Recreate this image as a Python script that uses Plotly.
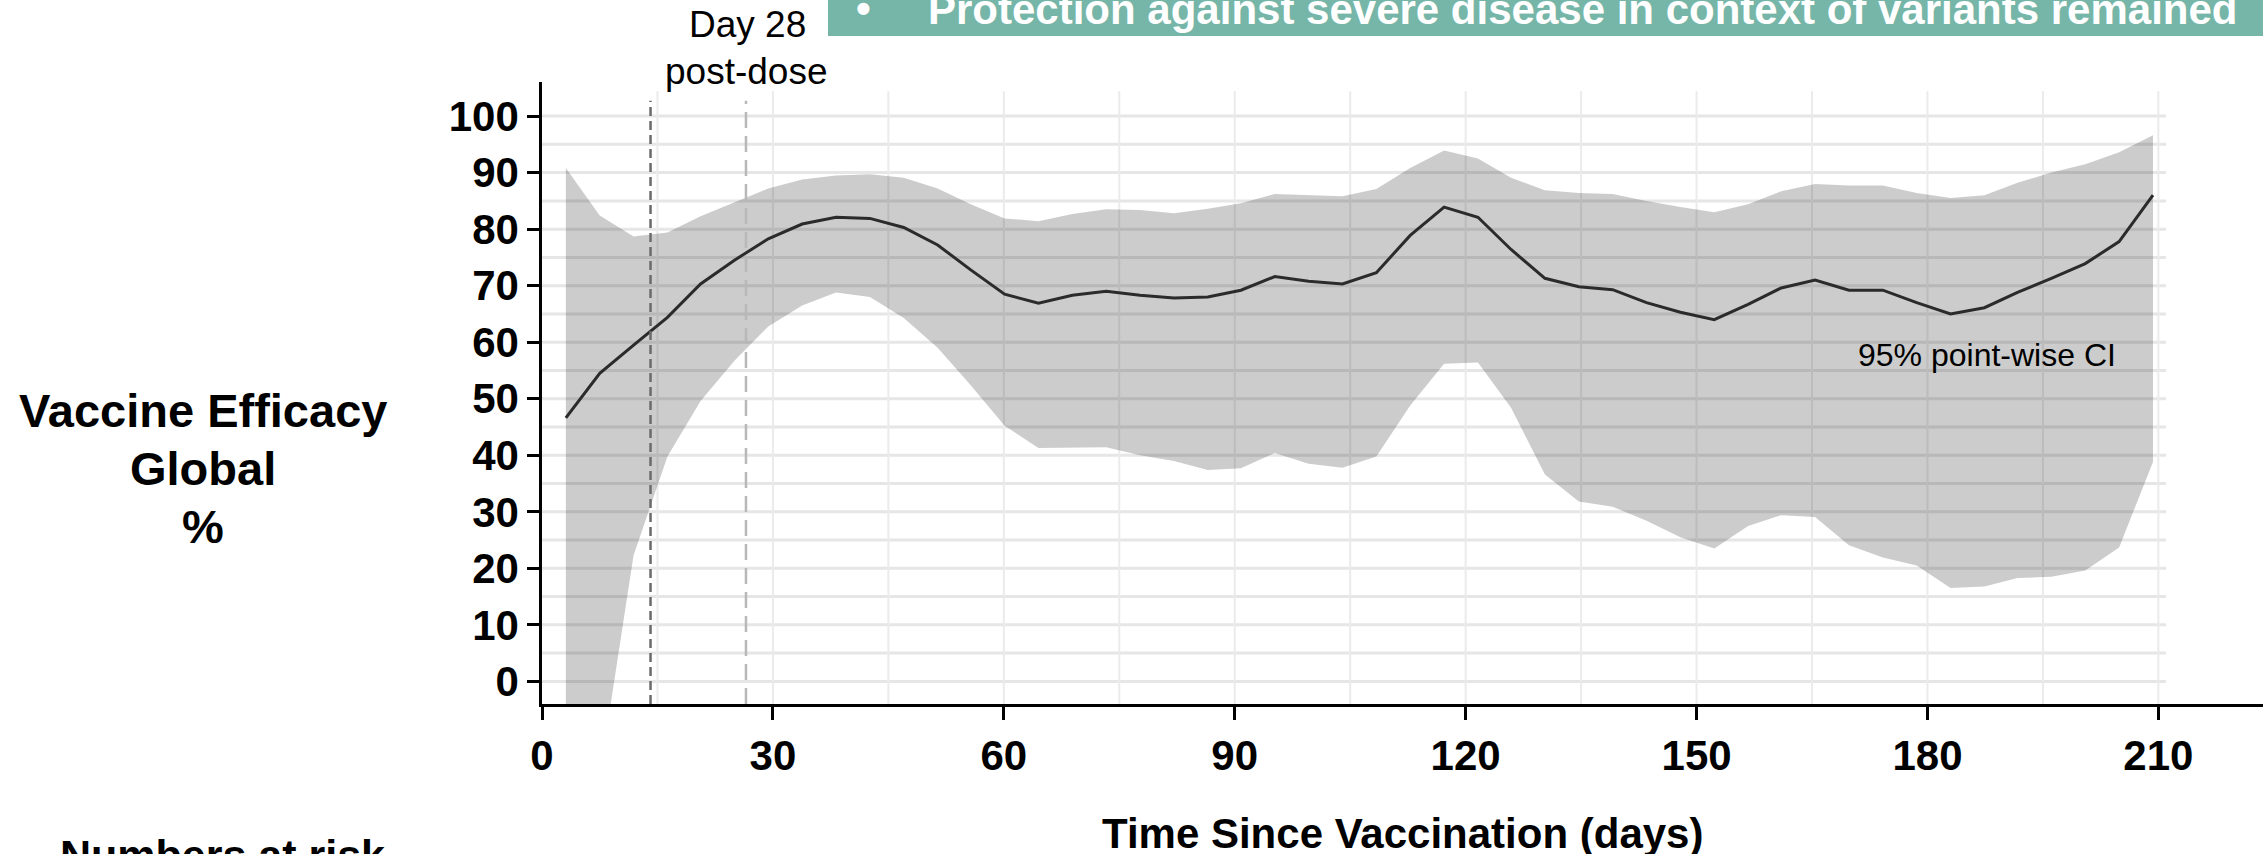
import plotly.graph_objects as go

# ---------------- data ----------------
days = [3.1, 7.5, 11.9, 16.3, 20.6, 25.0, 29.4, 33.8, 38.2, 42.6, 47.0, 51.4,
        55.7, 60.1, 64.5, 68.9, 73.3, 77.7, 82.1, 86.5, 90.8, 95.2, 99.6, 104.0,
        108.4, 112.8, 117.2, 121.6, 125.9, 130.3, 134.7, 139.1, 143.5, 147.9,
        152.3, 156.7, 161.0, 165.4, 169.8, 174.2, 178.6, 183.0, 187.4, 191.7,
        196.1, 200.5, 204.9, 209.3]
efficacy = [46.6, 54.5, 59.5, 64.4, 70.3, 74.5, 78.3, 80.9, 82.1, 81.9, 80.3, 77.2,
            72.8, 68.5, 66.9, 68.3, 69.0, 68.3, 67.8, 68.0, 69.2, 71.6, 70.8, 70.3,
            72.3, 78.9, 83.9, 82.1, 76.4, 71.3, 69.8, 69.3, 67.0, 65.3, 64.0, 66.7,
            69.6, 71.0, 69.2, 69.2, 67.0, 65.0, 66.1, 68.8, 71.3, 73.9, 77.8, 86.0]
ci_upper = [90.8, 82.4, 78.7, 79.4, 82.3, 84.8, 87.2, 88.8, 89.5, 89.7, 89.1, 87.2,
            84.4, 81.9, 81.4, 82.7, 83.5, 83.4, 82.8, 83.6, 84.6, 86.2, 86.0, 85.8,
            87.1, 90.8, 93.9, 92.5, 89.1, 86.9, 86.4, 86.2, 85.0, 83.9, 83.0, 84.4,
            86.7, 88.0, 87.7, 87.7, 86.4, 85.5, 86.0, 88.2, 90.0, 91.5, 93.6, 96.6]
ci_lower = [-30.0, -16.6, 22.3, 39.8, 49.6, 56.7, 62.8, 66.5, 68.8, 68.0, 64.3, 59.0,
            52.4, 45.2, 41.3, 41.3, 41.4, 40.0, 39.0, 37.4, 37.7, 40.4, 38.5, 37.8,
            39.8, 48.8, 56.2, 56.4, 48.4, 36.6, 31.8, 30.9, 28.4, 25.5, 23.5, 27.5,
            29.4, 29.1, 24.1, 21.9, 20.5, 16.5, 16.8, 18.3, 18.5, 19.6, 23.7, 38.8]

x_ticks = [0, 30, 60, 90, 120, 150, 180, 210]
y_ticks = [0, 10, 20, 30, 40, 50, 60, 70, 80, 90, 100]
x_grid = [15, 30, 45, 60, 75, 90, 105, 120, 135, 150, 165, 180, 195, 210]
y_grid = [0, 5, 10, 15, 20, 25, 30, 35, 40, 45, 50, 55, 60, 65, 70, 75, 80, 85, 90, 95, 100]
dose_marker_days = [14.1, 26.5]

FONT = "Liberation Sans, Arial, sans-serif"

# ---------------- layout geometry (pixels) ----------------
W, H = 2263, 854
ML, MR, MT, MB = 542, 0, 82, 150
PB = H - MB          # bottom of plot area in px
PT = MT
PL = ML
PR = W - MR


def ypap(p):
    return (PB - p) / (PB - PT)


def xpap(p):
    return (p - PL) / (PR - PL)


fig = go.Figure()

fig.add_trace(go.Scatter(x=days, y=ci_upper, mode="lines", line=dict(width=0),
                         hoverinfo="skip", showlegend=False))
fig.add_trace(go.Scatter(x=days, y=ci_lower, mode="lines", line=dict(width=0),
                         fill="tonexty", fillcolor="rgba(0,0,0,0.2)",
                         hoverinfo="skip", showlegend=False))
fig.add_trace(go.Scatter(x=days, y=efficacy, mode="lines",
                         line=dict(color="#2b2b2b", width=3),
                         showlegend=False))

shapes = []
# grid
for g in y_grid:
    shapes.append(dict(type="line", xref="x", yref="y", x0=0, x1=211, y0=g, y1=g,
                       line=dict(color="#e6e6e6", width=3), layer="below"))
for g in x_grid:
    shapes.append(dict(type="line", xref="x", yref="y", x0=g, x1=g, y0=-4, y1=104.4,
                       line=dict(color="#ebebeb", width=2), layer="below"))
# dose reference lines
shapes.append(dict(type="line", xref="x", yref="y", x0=dose_marker_days[0], x1=dose_marker_days[0],
                   y0=-4, y1=102.7, line=dict(color="#6b6b6b", width=2.5, dash="9px,5px")))
shapes.append(dict(type="line", xref="x", yref="y", x0=dose_marker_days[1], x1=dose_marker_days[1],
                   y0=-4, y1=102.7, line=dict(color="#b8b8b8", width=2.5, dash="16px,8px")))
# green banner
shapes.append(dict(type="rect", xref="paper", yref="paper",
                   x0=xpap(828), x1=xpap(2300), y0=ypap(36), y1=ypap(-20),
                   fillcolor="#76b6a8", line=dict(width=0), layer="above"))

annotations = [
    dict(text="<b>Vaccine Efficacy</b>", x=xpap(203), y=ypap(410.5), xref="paper", yref="paper",
         xanchor="center", yanchor="middle", showarrow=False, font=dict(family=FONT, size=47, color="black")),
    dict(text="<b>Global</b>", x=xpap(203), y=ypap(468), xref="paper", yref="paper",
         xanchor="center", yanchor="middle", showarrow=False, font=dict(family=FONT, size=47, color="black")),
    dict(text="<b>%</b>", x=xpap(203), y=ypap(526), xref="paper", yref="paper",
         xanchor="center", yanchor="middle", showarrow=False, font=dict(family=FONT, size=47, color="black")),
    dict(text="<b>Time Since Vaccination (days)</b>", x=0.5, y=ypap(833), xref="paper", yref="paper",
         xanchor="center", yanchor="middle", showarrow=False, font=dict(family=FONT, size=42, color="black")),
    dict(text="<b>Numbers at risk</b>", x=xpap(222), y=ypap(855), xref="paper", yref="paper",
         xanchor="center", yanchor="middle", showarrow=False, font=dict(family=FONT, size=43, color="black")),
    dict(text="Day 28", x=xpap(747), y=ypap(25), xref="paper", yref="paper",
         xanchor="center", yanchor="middle", showarrow=False, font=dict(family=FONT, size=37, color="black")),
    dict(text="post-dose", x=xpap(746), y=ypap(71.5), xref="paper", yref="paper",
         xanchor="center", yanchor="middle", showarrow=False, font=dict(family=FONT, size=37, color="black")),
    dict(text="95% point-wise CI", x=xpap(1986.5), y=ypap(355), xref="paper", yref="paper",
         xanchor="center", yanchor="middle", showarrow=False, font=dict(family=FONT, size=32, color="black")),
    dict(text="<b>•</b>", x=xpap(854), y=ypap(9), xref="paper", yref="paper",
         xanchor="left", yanchor="middle", showarrow=False, font=dict(family=FONT, size=42, color="white")),
    dict(text="<b>Protection against severe disease in context of variants remained</b>",
         x=xpap(926), y=ypap(9.5), xref="paper", yref="paper",
         xanchor="left", yanchor="middle", showarrow=False, font=dict(family=FONT, size=42, color="white")),
]

fig.update_layout(
    width=W, height=H,
    margin=dict(l=ML, r=MR, t=MT, b=MB, pad=0),
    paper_bgcolor="white", plot_bgcolor="white",
    showlegend=False,
    shapes=shapes,
    annotations=annotations,
    font=dict(family=FONT, color="black"),
    xaxis=dict(range=[0, (PR - PL) / 7.697], tickvals=x_ticks, ticktext=[str(v) for v in x_ticks],
               showgrid=False, zeroline=False, showline=True, linecolor="black", linewidth=3,
               ticks="outside", ticklen=13, tickwidth=2.5, tickcolor="black",
               tickfont=dict(family=FONT, size=42, color="black", weight="bold"),
               automargin=False, fixedrange=True),
    yaxis=dict(range=[-4.0, -4.0 + (PB - PT) / 5.653], tickvals=y_ticks, ticktext=[str(v) for v in y_ticks],
               showgrid=False, zeroline=False, showline=True, linecolor="black", linewidth=2.5,
               ticks="outside", ticklen=12, tickwidth=2.5, tickcolor="black",
               tickfont=dict(family=FONT, size=42, color="black", weight="bold"),
               automargin=False, fixedrange=True),
)

fig.write_html(
    "out.html",
    config={"displayModeBar": False},
    post_script="document.body.style.margin='0';document.body.style.overflow='hidden';",
)
